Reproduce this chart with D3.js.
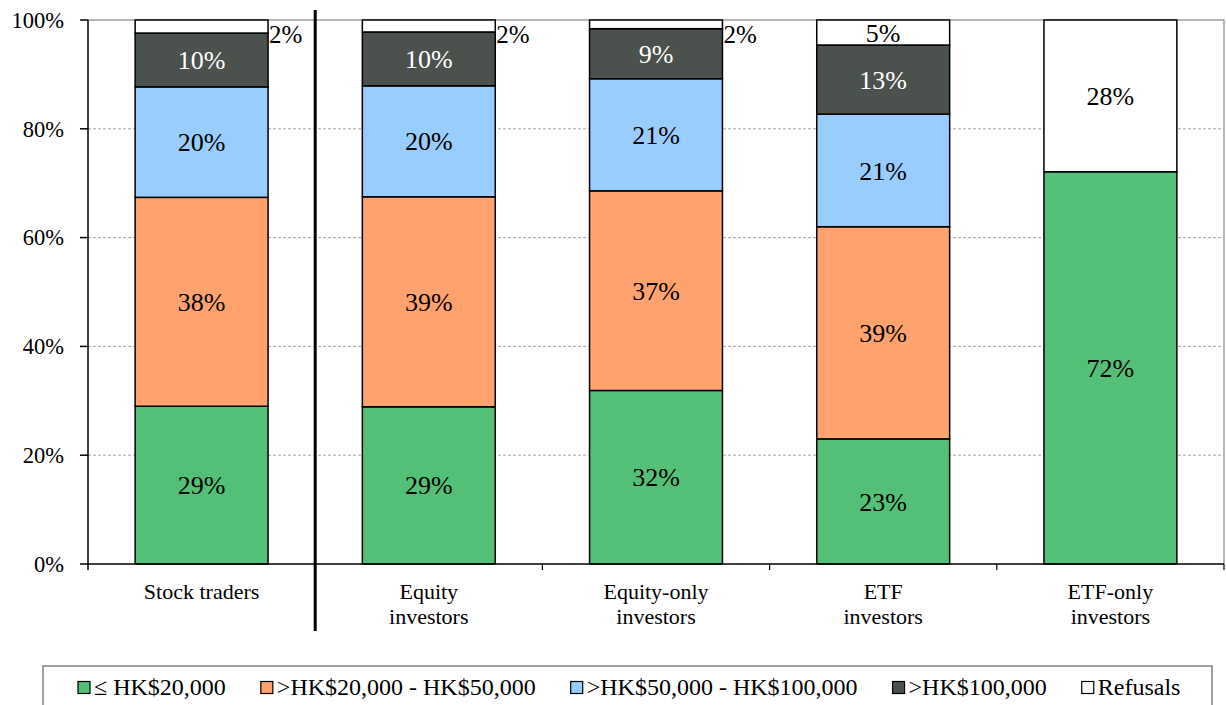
<!DOCTYPE html>
<html>
<head>
<meta charset="utf-8">
<script src="https://cdn.jsdelivr.net/npm/d3@7"></script>
<style>
  html, body { margin: 0; padding: 0; background: #fff; }
  svg { display: block; }
  svg text { font-family: "Liberation Serif", "Times New Roman", Times, "DejaVu Serif", serif; }
</style>
</head>
<body>
<svg id="chart" width="1226" height="705"></svg>
<script>
// Monthly amount invested, by investor group (percent of respondents)
const categories = ["Stock traders", "Equity investors", "Equity-only investors", "ETF investors", "ETF-only investors"];
const categoryLines = [["Stock traders"], ["Equity", "investors"], ["Equity-only", "investors"], ["ETF", "investors"], ["ETF-only", "investors"]];
const seriesNames = ["≤ HK$20,000", ">HK$20,000 - HK$50,000", ">HK$50,000 - HK$100,000", ">HK$100,000", "Refusals"];
const upTo20k       = [29.0, 28.9, 31.9, 23.0, 72.1];
const from20kTo50k  = [38.4, 38.6, 36.7, 39.0, 0];
const from50kTo100k = [20.3, 20.4, 20.6, 20.7, 0];
const over100k      = [9.9, 9.9, 9.2, 12.7, 0];
const refusals      = [2.4, 2.2, 1.6, 4.6, 27.9];
const yTicks = [0, 20, 40, 60, 80, 100];

const seriesValues = [upTo20k, from20kTo50k, from50kTo100k, over100k, refusals];
const colors = ["#53bf77", "#ffa26d", "#99ccff", "#4b524d", "#ffffff"];
const labelColors = ["#000", "#000", "#000", "#fff", "#000"];

const rows = categories.map((c, i) => {
  const r = { category: c };
  seriesNames.forEach((s, j) => { r[s] = seriesValues[j][i]; });
  return r;
});

const svg = d3.select("#chart");
const plotLeft = 88, plotRight = 1224, plotTop = 20, plotBottom = 564;

const x = d3.scaleBand().domain(categories).range([plotLeft, plotRight])
  .paddingInner(0.415).paddingOuter(0.2075);
const y = d3.scaleLinear().domain([0, 100]).range([plotBottom, plotTop]);

// gridlines
svg.append("g").selectAll("line")
  .data(yTicks.filter(t => t > 0 && t < 100))
  .join("line")
  .attr("x1", plotLeft).attr("x2", plotRight)
  .attr("y1", d => y(d)).attr("y2", d => y(d))
  .attr("stroke", "#a6a6a6").attr("stroke-width", 1)
  .attr("stroke-dasharray", "3,2");

// plot area border (top and right)
svg.append("path")
  .attr("d", `M${plotLeft},${y(100)}H${plotRight}V${plotBottom}`)
  .attr("fill", "none").attr("stroke", "#a0a0a0").attr("stroke-width", 1.5);

// stacked bars
const stacked = d3.stack().keys(seriesNames)(rows);
const barsG = svg.append("g");
stacked.forEach((layer, j) => {
  barsG.append("g").selectAll("rect")
    .data(layer.filter(d => d[1] - d[0] > 0))
    .join("rect")
    .attr("x", d => x(d.data.category))
    .attr("width", x.bandwidth())
    .attr("y", d => y(d[1]))
    .attr("height", d => y(d[0]) - y(d[1]))
    .attr("fill", colors[j])
    .attr("stroke", "#000").attr("stroke-width", 1.5);
});

// value labels (thin segments get their label beside the bar)
const fmt = v => d3.format(".0f")(v) + "%";
stacked.forEach((layer, j) => {
  layer.filter(d => d[1] - d[0] > 0).forEach(d => {
    const v = d[1] - d[0];
    const bx = x(d.data.category);
    if (v < 4) {
      svg.append("text")
        .attr("x", bx + x.bandwidth() + 1)
        .attr("y", y(d[1]) + 23)
        .attr("font-size", 25)
        .attr("fill", "#000")
        .text(fmt(v));
    } else {
      svg.append("text")
        .attr("x", bx + x.bandwidth() / 2)
        .attr("y", (y(d[0]) + y(d[1])) / 2)
        .attr("dy", "0.35em")
        .attr("text-anchor", "middle")
        .attr("font-size", 26)
        .attr("fill", labelColors[j])
        .text(fmt(v));
    }
  });
});

// y axis
const yAxis = svg.append("g");
yAxis.append("line").attr("x1", plotLeft).attr("x2", plotLeft)
  .attr("y1", plotTop).attr("y2", plotBottom + 6)
  .attr("stroke", "#000").attr("stroke-width", 1.5);
yAxis.selectAll(".tk").data(yTicks).join("line")
  .attr("x1", plotLeft - 8).attr("x2", plotLeft)
  .attr("y1", d => y(d)).attr("y2", d => y(d))
  .attr("stroke", "#000").attr("stroke-width", 1.5);
yAxis.selectAll("text").data(yTicks).join("text")
  .attr("x", 64).attr("y", d => y(d)).attr("dy", "0.35em")
  .attr("text-anchor", "end").attr("font-size", 22.5)
  .text(d => d + "%");

// x axis
const xAxis = svg.append("g");
xAxis.append("line").attr("x1", plotLeft).attr("x2", plotRight)
  .attr("y1", plotBottom).attr("y2", plotBottom)
  .attr("stroke", "#000").attr("stroke-width", 1.5);
const boundaries = categories.map(c => x(c) - x.step() * x.paddingInner() / 2).concat([plotRight]);
xAxis.selectAll(".tk").data(boundaries.slice(1)).join("line")
  .attr("x1", d => d).attr("x2", d => d)
  .attr("y1", plotBottom).attr("y2", plotBottom + 6)
  .attr("stroke", "#000").attr("stroke-width", 1.2);
categories.forEach((c, i) => {
  const t = xAxis.append("text")
    .attr("x", x(c) + x.bandwidth() / 2)
    .attr("y", 599)
    .attr("text-anchor", "middle").attr("font-size", 22);
  categoryLines[i].forEach((ln, k) => {
    t.append("tspan").attr("x", x(c) + x.bandwidth() / 2)
      .attr("dy", k === 0 ? 0 : 25).text(ln);
  });
});

// divider between stock traders and investor groups
svg.append("line")
  .attr("x1", boundaries[1]).attr("x2", boundaries[1])
  .attr("y1", 10).attr("y2", 631)
  .attr("stroke", "#000").attr("stroke-width", 3);

// legend
const legend = svg.append("g");
legend.append("rect")
  .attr("x", 43).attr("y", 666).attr("width", 1169).attr("height", 60)
  .attr("fill", "#fff").attr("stroke", "#808080").attr("stroke-width", 1.5);
let lx = 78;
seriesNames.forEach((s, j) => {
  legend.append("rect")
    .attr("x", lx).attr("y", 681.5).attr("width", 12).attr("height", 12)
    .attr("fill", colors[j]).attr("stroke", "#000").attr("stroke-width", 1.2);
  const t = legend.append("text")
    .attr("x", lx + 16).attr("y", 695)
    .attr("font-size", 24).text(s);
  lx += 16 + t.node().getComputedTextLength() + 35;
});
</script>
</body>
</html>
